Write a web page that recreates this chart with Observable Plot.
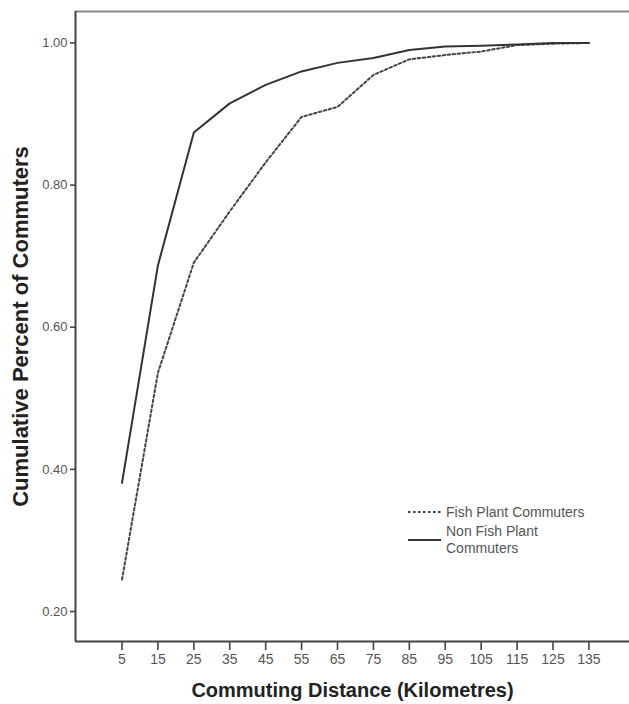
<!DOCTYPE html>
<html><head><meta charset="utf-8">
<script src="https://cdn.jsdelivr.net/npm/d3@7"></script>
<script src="https://cdn.jsdelivr.net/npm/@observablehq/plot@0.6"></script>
<style>
body{margin:0;background:#fff;}
#wrap{position:relative;width:629px;height:704px;overflow:hidden;}
#legend{position:absolute;left:0;top:0;pointer-events:none;}
</style></head><body><div id="wrap"></div>
<script>
// Commuting distance categories (km)
const distances = [5, 15, 25, 35, 45, 55, 65, 75, 85, 95, 105, 115, 125, 135];
// Cumulative share of commuters
const fishPlant    = [0.245, 0.536, 0.691, 0.763, 0.832, 0.896, 0.910, 0.955, 0.977, 0.983, 0.988, 0.997, 0.999, 1.000];
const nonFishPlant = [0.381, 0.687, 0.874, 0.915, 0.941, 0.960, 0.972, 0.979, 0.990, 0.995, 0.996, 0.998, 1.000, 1.000];
const seriesNames = ["Fish Plant Commuters", "Non Fish Plant Commuters"];
const xTicks = distances;
const yTicks = [0.20, 0.40, 0.60, 0.80, 1.00];
const xTitle = "Commuting Distance (Kilometres)";
const yTitle = "Cumulative Percent of Commuters";

const xDomain = [-7.95, 146.3];
const yDomain = [0.1578, 1.0443];

const rows = [];
distances.forEach((d, i) => {
  rows.push({series: seriesNames[0], x: d, y: fishPlant[i]});
  rows.push({series: seriesNames[1], x: d, y: nonFishPlant[i]});
});

const font = "'Liberation Sans', Arial, sans-serif";
const dash = "2.5,2.5";

const chart = Plot.plot({
  width: 629,
  height: 704,
  marginLeft: 75,
  marginRight: 0,
  marginTop: 11,
  marginBottom: 63,
  style: {fontFamily: font, background: "#fff", overflow: "visible"},
  x: {domain: xDomain, ticks: xTicks, tickFormat: d => String(d), label: null},
  y: {domain: yDomain, ticks: yTicks, tickFormat: d3.format(".2f"), label: null},
  marks: [
    Plot.ruleY([yDomain[1]], {stroke: "#8a8a8a", strokeWidth: 2}),
    Plot.axisX({ticks: xTicks, tickFormat: d => String(d), tickSize: 9, tickPadding: 4, fontSize: 14, color: "#555", stroke: "#444", strokeWidth: 1.6, label: null}),
    Plot.axisY({ticks: yTicks, tickFormat: d3.format(".2f"), tickSize: 5, tickPadding: 3, fontSize: 13, color: "#555", stroke: "#444", strokeWidth: 1.6, label: null}),
    Plot.ruleX([xDomain[0]], {stroke: "#444", strokeWidth: 2}),
    Plot.ruleY([yDomain[0]], {stroke: "#444", strokeWidth: 2}),
    Plot.line(rows.filter(r => r.series === seriesNames[0]), {x: "x", y: "y", stroke: "#444", strokeWidth: 2, strokeDasharray: dash}),
    Plot.line(rows.filter(r => r.series === seriesNames[1]), {x: "x", y: "y", stroke: "#333", strokeWidth: 2}),
    Plot.text([xTitle], {frameAnchor: "bottom", lineAnchor: "middle", dy: 49, fontSize: 20, fontWeight: "bold", fill: "#222"}),
    Plot.text([yTitle], {frameAnchor: "left", textAnchor: "middle", lineAnchor: "middle", dx: -55, rotate: -90, fontSize: 22, fontWeight: "bold", fill: "#222"})
  ]
});
document.getElementById("wrap").appendChild(chart);

// Legend (inside plot area, lower right)
const ns = "http://www.w3.org/2000/svg";
const leg = document.createElementNS(ns, "svg");
leg.setAttribute("id", "legend");
leg.setAttribute("width", 629);
leg.setAttribute("height", 704);
leg.style.fontFamily = font;
const legendItems = [
  {lines: [seriesNames[0]], y: 512, dash: dash, stroke: "#444"},
  {lines: ["Non Fish Plant", "Commuters"], y: 540, dash: null, stroke: "#333"}
];
legendItems.forEach(item => {
  const l = document.createElementNS(ns, "line");
  l.setAttribute("x1", 408); l.setAttribute("x2", 441);
  l.setAttribute("y1", item.y); l.setAttribute("y2", item.y);
  l.setAttribute("stroke", item.stroke); l.setAttribute("stroke-width", 2);
  if (item.dash) l.setAttribute("stroke-dasharray", item.dash);
  leg.appendChild(l);
  const n = item.lines.length;
  item.lines.forEach((t, k) => {
    const tx = document.createElementNS(ns, "text");
    tx.setAttribute("x", 446);
    tx.setAttribute("y", item.y + (k - (n - 1) / 2) * 17);
    tx.setAttribute("dy", "0.35em");
    tx.setAttribute("font-size", 14);
    tx.setAttribute("fill", "#555");
    tx.textContent = t;
    leg.appendChild(tx);
  });
});
document.getElementById("wrap").appendChild(leg);
</script></body></html>
